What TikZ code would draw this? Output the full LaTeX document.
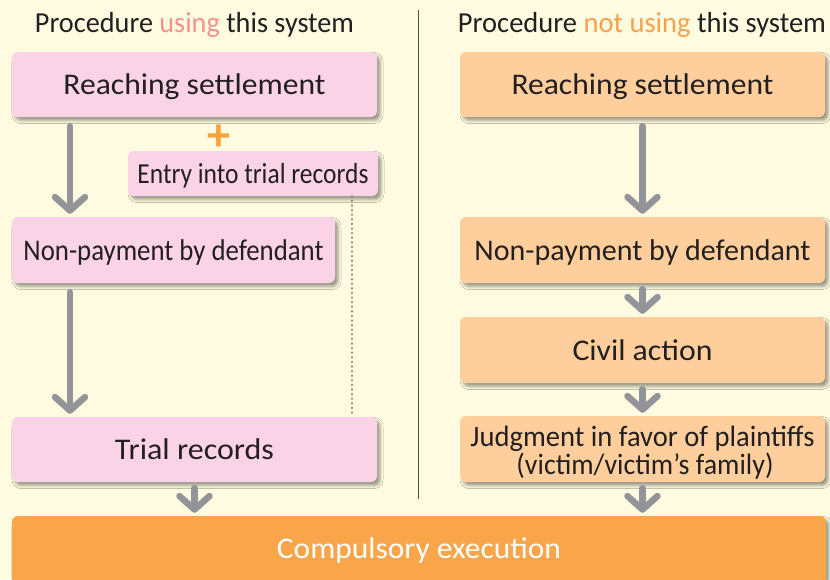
\documentclass[tikz,border=0pt]{standalone}
\usepackage{fontspec}
\setmainfont{Carlito}
\usetikzlibrary{arrows.meta,shadows.blur}
\definecolor{bg}{HTML}{FEFBE0}
\definecolor{pinkbox}{HTML}{FAD3E6}
\definecolor{peachbox}{HTML}{FECF9C}
\definecolor{execbox}{HTML}{F9A54A}
\definecolor{arrowgray}{HTML}{939499}
\definecolor{dotgray}{HTML}{8A8B90}
\definecolor{usingc}{HTML}{F5928F}
\definecolor{notusingc}{HTML}{F9A24C}
\definecolor{plusc}{HTML}{F7A23A}
\definecolor{textc}{HTML}{231F20}
\definecolor{divc}{HTML}{4D4D4D}
\newcommand\fitw[2]{\resizebox{#1}{\height}{#2}}
\begin{document}
\begin{tikzpicture}[x=1pt,y=-1pt,
  box/.style={rounded corners=6pt, inner sep=0pt, text=textc,
    text height=20pt, text depth=0pt, font=\fontsize{30}{36}\selectfont,
    blur shadow={shadow xshift=3pt, shadow yshift=-3.5pt, shadow blur radius=3pt, shadow opacity=40}},
  pinkb/.style={box, fill=pinkbox},
  peachb/.style={box, fill=peachbox},
  flow/.style={arrowgray, line width=6.5pt, line cap=round,
    -{Straight Barb[length=13.5pt,width=30pt,round]}, shorten >=3pt},
  longflow/.style={flow, shorten <=9pt},
  shortflow/.style={flow, shorten <=6pt},
  title/.style={font=\fontsize{29}{34}\selectfont, text=textc, inner sep=0pt, anchor=base},
  divider/.style={divc, line width=1pt},
  dotline/.style={dotgray, line width=2.6pt, line cap=round, dash pattern=on 0.3pt off 4.3pt}
]
\useasboundingbox (0,0) rectangle (830,579);
\clip (0,0) rectangle (830,579);
\fill[bg] (0,0) rectangle (830,579);

% titles
\node[title] (tl) at (194.5,32.5) {\fitw{319pt}{Procedure \textcolor{usingc}{using} this system}};
\node[title] (tr) at (642,32.5) {\fitw{368pt}{Procedure \textcolor{notusingc}{not using} this system}};

% divider
\coordinate (dtop) at (418,10);
\coordinate (dbot) at (418,499);
\draw[divider] (dtop) -- (dbot);

% left column
\node[pinkb, minimum width=365pt, minimum height=65pt] (l1) at (194.5,84.5) {\fitw{262pt}{Reaching settlement}};
\node[text=plusc, font=\fontsize{46}{46}\selectfont\bfseries, inner sep=0pt, anchor=base] (plus) at (219,150) {+};
\node[pinkb, minimum width=250pt, minimum height=45pt, font=\fontsize{29}{34}\selectfont] (entry) at (253,173.5) {\fitw{231pt}{Entry into trial records}};
\node[pinkb, minimum width=323pt, minimum height=66pt] (l2) at (173.5,250) {\fitw{300pt}{Non-payment by defendant}};
\node[pinkb, minimum width=365pt, minimum height=65pt] (l3) at (194.5,449.5) {\fitw{159pt}{Trial records}};

% right column
\node[peachb, minimum width=365pt, minimum height=65pt] (r1) at (642.5,84.5) {\fitw{262pt}{Reaching settlement}};
\node[peachb, minimum width=365pt, minimum height=66pt] (r2) at (642.5,250) {\fitw{336pt}{Non-payment by defendant}};
\node[peachb, minimum width=365pt, minimum height=66pt] (r3) at (642.5,350) {\fitw{140pt}{Civil action}};
\node[peachb, minimum width=365pt, minimum height=66pt,
  font=\fontsize{29.5}{28}\selectfont, text height=50pt, text depth=0pt] (r4) at (642.5,449)
  {\vbox{\baselineskip=28pt\lineskiplimit=-40pt
    \hbox to 344pt{\hss\fitw{344pt}{Judgment in favor of plaintiffs}\hss}
    \hbox to 344pt{\hss\hskip5pt\fitw{257pt}{(victim/victim’s family)}\hss}}};

% compulsory execution
\node[box, fill=execbox, text=white, minimum width=814pt, minimum height=80pt,
  text height=20pt, text depth=16pt] (exec) at (419,556) {\fitw{284pt}{Compulsory execution}};

% connectors
\coordinate (ax) at (70,0);
\coordinate (dx) at (352,0);
\draw[longflow] (l1.south -| ax) -- (l2.north -| ax);
\draw[longflow] (l2.south -| ax) -- (l3.north -| ax);
\draw[shortflow] (l3.south) -- (l3.south |- exec.north);
\draw[dotline] (entry.south -| dx) -- (l3.north -| dx);

\draw[longflow] (r1.south) -- (r2.north);
\draw[shortflow] (r2.south) -- (r3.north);
\draw[shortflow] (r3.south) -- (r4.north);
\draw[shortflow] (r4.south) -- (r4.south |- exec.north);
\end{tikzpicture}
\end{document}
